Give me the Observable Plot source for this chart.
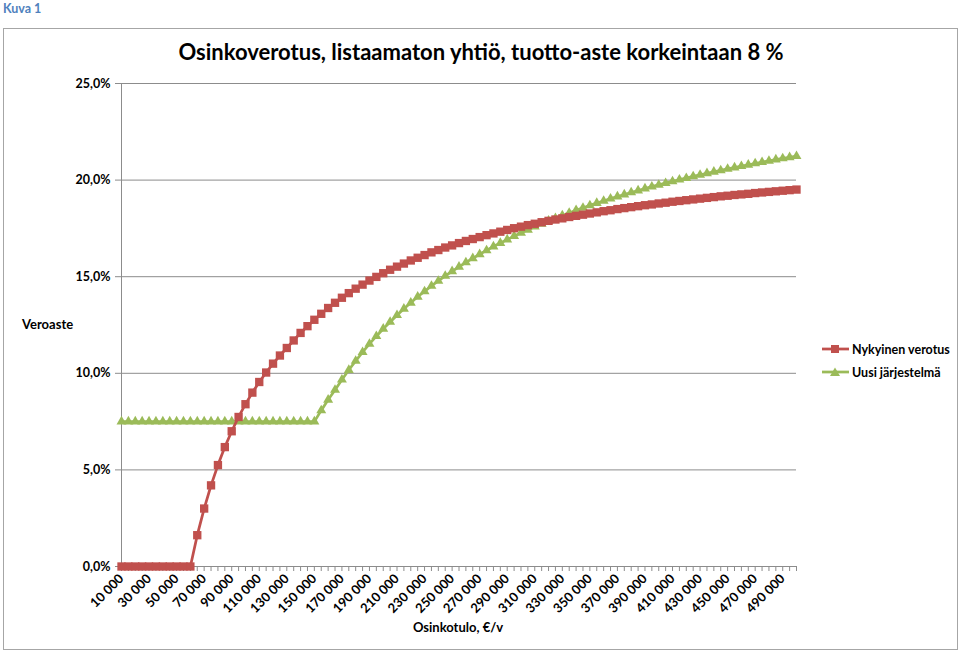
<!DOCTYPE html>
<html><head><meta charset="utf-8">
<script src="https://cdn.jsdelivr.net/npm/d3@7"></script>
<script src="https://cdn.jsdelivr.net/npm/@observablehq/plot@0.6"></script>
<style>
html,body{margin:0;padding:0;background:#fff;}
body{width:960px;height:653px;position:relative;overflow:hidden;font-family:Lato,"Open Sans",sans-serif;color:#000;}
#kuva{position:absolute;left:3px;top:1px;font-size:12.5px;font-weight:bold;color:#4F81BD;}
#box{position:absolute;left:3px;top:28px;width:955px;height:622px;border:1px solid #A6A6A6;box-sizing:border-box;}
#title{position:absolute;left:0;width:962px;top:38px;text-align:center;font-size:22px;font-weight:bold;}
#chart{position:absolute;left:0;top:0;}
#ylabel{position:absolute;left:22px;top:316px;font-size:13px;font-weight:bold;}
#xlabel{position:absolute;left:358px;width:200px;text-align:center;top:619px;font-size:13px;font-weight:bold;}
.leg{position:absolute;left:822px;font-size:12.5px;font-weight:bold;display:flex;align-items:center;white-space:nowrap;}
.leg svg{margin-right:3px;}
</style></head>
<body>
<div id="kuva">Kuva 1</div>
<div id="box"></div>
<div id="chart"></div>
<div id="title">Osinkoverotus, listaamaton yhtiö, tuotto-aste korkeintaan 8 %</div>
<div id="ylabel">Veroaste</div>
<div id="xlabel">Osinkotulo, €/v</div>
<div id="legend"></div>
<script>
// categories: dividend income, €/year
const incomes = d3.range(10000, 505000, 5000);
const xTickLabels = d3.range(10000, 500000, 20000);
const yTicks = [0, 5, 10, 15, 20, 25];
const seriesNames = ["Nykyinen verotus", "Uusi järjestelmä"];
const seriesColors = ["#C0504D", "#9BBB59"];

// tax rate, %
const nykyinen = [0,0,0,0,0,0,0,0,0,0,0,
1.62,3.00,4.20,5.25,6.18,7.00,7.74,8.40,9.00,9.55,10.04,10.50,10.92,11.31,
11.70,12.09,12.44,12.77,13.08,13.38,13.65,13.91,14.15,14.38,
14.59,14.80,14.99,15.18,15.36,15.52,15.68,15.84,15.98,16.12,
16.26,16.38,16.51,16.62,16.74,16.85,16.95,17.05,17.15,17.24,
17.33,17.42,17.51,17.59,17.67,17.74,17.82,17.89,17.96,18.02,
18.09,18.15,18.21,18.27,18.33,18.39,18.44,18.50,18.55,18.60,
18.65,18.70,18.74,18.79,18.83,18.88,18.92,18.96,19.00,19.04,
19.08,19.12,19.16,19.19,19.23,19.26,19.29,19.33,19.36,19.39,
19.42,19.45,19.48,19.51];
const uusi = [7.5,7.5,7.5,7.5,7.5,7.5,7.5,7.5,7.5,7.5,7.5,7.5,7.5,7.5,7.5,
7.5,7.5,7.5,7.5,7.5,7.5,7.5,7.5,7.5,7.5,7.5,7.5,7.5,7.5,
8.08,8.63,9.14,9.67,10.17,10.64,11.09,11.52,11.92,12.30,
12.66,13.01,13.34,13.65,13.96,14.24,14.52,14.78,15.04,15.28,
15.51,15.74,15.95,16.16,16.36,16.56,16.74,16.92,17.10,17.27,
17.43,17.59,17.74,17.89,18.03,18.17,18.30,18.44,18.56,18.69,
18.81,18.92,19.04,19.15,19.25,19.36,19.46,19.56,19.66,19.75,
19.84,19.93,20.02,20.10,20.19,20.27,20.35,20.43,20.50,20.58,
20.65,20.72,20.79,20.86,20.93,20.99,21.06,21.12,21.18,21.24];

const redData = incomes.map((x, i) => ({x, y: nykyinen[i]}));
const greenData = incomes.map((x, i) => ({x, y: uusi[i]}));

const fmtPct = d => d.toFixed(1).replace(".", ",") + "%";
const fmtInc = d => d3.format(",")(d).replace(/,/g, " ");
const grid = "#8C8C8C";

const chart = Plot.plot({
  width: 960, height: 653,
  marginLeft: 121, marginRight: 164, marginTop: 83, marginBottom: 87,
  style: {fontFamily: "Lato, sans-serif", fontSize: "12px", background: "transparent", overflow: "visible"},
  x: {type: "linear", domain: [10000, 500000]},
  y: {domain: [0, 25]},
  marks: [
    Plot.gridY(yTicks.filter(d => d > 0), {stroke: grid, strokeOpacity: 1, strokeWidth: 1}),
    Plot.ruleX([10000], {stroke: grid}),
    Plot.ruleY([0], {stroke: grid}),
    Plot.axisY(yTicks, {tickSize: 6, tickPadding: 5, stroke: grid, tickFormat: fmtPct, fontWeight: "bold", fontSize: 12.5, label: null}),
    Plot.axisX(incomes, {tickSize: 5, stroke: grid, tickFormat: () => "", label: null}),
    Plot.axisX(xTickLabels, {tickSize: 0, tickPadding: 10, tickRotate: -45, tickFormat: fmtInc, fontWeight: "bold", fontSize: 13, label: null}),
    Plot.line(greenData, {x: "x", y: "y", stroke: seriesColors[1], strokeWidth: 2.75}),
    Plot.dot(greenData, {x: "x", y: "y", symbol: "triangle", r: 3.7, fill: seriesColors[1], stroke: "none"}),
    Plot.line(redData, {x: "x", y: "y", stroke: seriesColors[0], strokeWidth: 2.75}),
    Plot.dot(redData, {x: "x", y: "y", symbol: "square", r: 4.7, fill: seriesColors[0], stroke: "none"})
  ]
});
document.getElementById("chart").appendChild(chart);

// legend
const legend = document.getElementById("legend");
const legTops = [341, 364];
seriesNames.forEach((name, i) => {
  const row = document.createElement("div");
  row.className = "leg";
  row.style.top = legTops[i] + "px";
  const c = seriesColors[i];
  const marker = i === 0
    ? `<rect x="9" y="4" width="8" height="8" fill="${c}"/>`
    : `<path d="M13 3.5 L18 12 L8 12 Z" fill="${c}"/>`;
  row.innerHTML = `<svg width="27" height="16"><line x1="0" x2="27" y1="8" y2="8" stroke="${c}" stroke-width="2.75"/>${marker}</svg><span>${name}</span>`;
  legend.appendChild(row);
});
</script>
</body></html>
